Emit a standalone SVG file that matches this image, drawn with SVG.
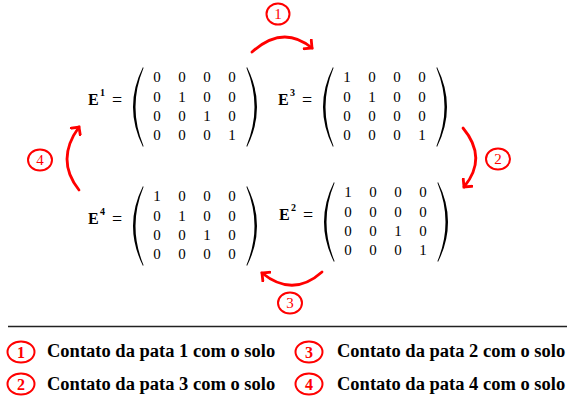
<svg xmlns="http://www.w3.org/2000/svg" width="567" height="403" viewBox="0 0 567 403">
<style>
text{font-family:"Liberation Serif","Times New Roman","DejaVu Serif",serif}
.e{font-size:16px;font-weight:bold;fill:#000}
.sup{font-size:10px;font-weight:bold;fill:#000}
.eq{font-size:18px;fill:#000}
.m{font-size:15px;fill:#000;text-anchor:middle}
.par{fill:#000}
.arr{fill:none;stroke:#f00;stroke-width:2.8;stroke-linecap:round}
.lab{fill:#fff;stroke:#f00;stroke-width:2}
.num{font-size:15px;fill:#f00;text-anchor:middle}
.lnum{font-size:16px;font-weight:bold;fill:#f00;text-anchor:middle}
.leg{font-size:18.5px;font-weight:bold;fill:#000}
</style>
<defs>
<marker id="ah" markerWidth="12" markerHeight="14" refX="7" refY="7" orient="auto" markerUnits="userSpaceOnUse">
<path d="M1.5,1.5 L7,7 L1.5,12.5" fill="none" stroke="#f00" stroke-width="2.8" stroke-linecap="square"/>
</marker>
<g id="parens">
<path class="par" d="M143,67 Q123,107 143,147 L143.5,146 Q127.5,107 143.5,68 Z"/>
<path class="par" d="M247,67 Q267,107 247,147 L246.5,146 Q262.5,107 246.5,68 Z"/>
</g>
</defs>

<g id="E1">
<text class="e" x="88" y="105">E</text><text class="sup" x="100" y="96">1</text><text class="eq" x="112" y="106">=</text>
<use href="#parens"/>
<text class="m" y="82"><tspan x="157">0</tspan><tspan x="182">0</tspan><tspan x="207">0</tspan><tspan x="232">0</tspan></text>
<text class="m" y="102"><tspan x="157">0</tspan><tspan x="182">1</tspan><tspan x="207">0</tspan><tspan x="232">0</tspan></text>
<text class="m" y="121"><tspan x="157">0</tspan><tspan x="182">0</tspan><tspan x="207">1</tspan><tspan x="232">0</tspan></text>
<text class="m" y="140"><tspan x="157">0</tspan><tspan x="182">0</tspan><tspan x="207">0</tspan><tspan x="232">1</tspan></text>
</g>

<g id="E3" transform="translate(190,0)">
<text class="e" x="88" y="105">E</text><text class="sup" x="100" y="96">3</text><text class="eq" x="112" y="106">=</text>
<use href="#parens"/>
<text class="m" y="82"><tspan x="157">1</tspan><tspan x="182">0</tspan><tspan x="207">0</tspan><tspan x="232">0</tspan></text>
<text class="m" y="102"><tspan x="157">0</tspan><tspan x="182">1</tspan><tspan x="207">0</tspan><tspan x="232">0</tspan></text>
<text class="m" y="121"><tspan x="157">0</tspan><tspan x="182">0</tspan><tspan x="207">0</tspan><tspan x="232">0</tspan></text>
<text class="m" y="140"><tspan x="157">0</tspan><tspan x="182">0</tspan><tspan x="207">0</tspan><tspan x="232">1</tspan></text>
</g>

<g id="E4" transform="translate(0,119)">
<text class="e" x="88" y="105">E</text><text class="sup" x="100" y="96">4</text><text class="eq" x="112" y="106">=</text>
<use href="#parens"/>
<text class="m" y="82"><tspan x="157">1</tspan><tspan x="182">0</tspan><tspan x="207">0</tspan><tspan x="232">0</tspan></text>
<text class="m" y="102"><tspan x="157">0</tspan><tspan x="182">1</tspan><tspan x="207">0</tspan><tspan x="232">0</tspan></text>
<text class="m" y="121"><tspan x="157">0</tspan><tspan x="182">0</tspan><tspan x="207">1</tspan><tspan x="232">0</tspan></text>
<text class="m" y="140"><tspan x="157">0</tspan><tspan x="182">0</tspan><tspan x="207">0</tspan><tspan x="232">0</tspan></text>
</g>

<g id="E2" transform="translate(191,115)">
<text class="e" x="88" y="105">E</text><text class="sup" x="100" y="96">2</text><text class="eq" x="112" y="106">=</text>
<use href="#parens"/>
<text class="m" y="82"><tspan x="157">1</tspan><tspan x="182">0</tspan><tspan x="207">0</tspan><tspan x="232">0</tspan></text>
<text class="m" y="102"><tspan x="157">0</tspan><tspan x="182">0</tspan><tspan x="207">0</tspan><tspan x="232">0</tspan></text>
<text class="m" y="121"><tspan x="157">0</tspan><tspan x="182">0</tspan><tspan x="207">1</tspan><tspan x="232">0</tspan></text>
<text class="m" y="140"><tspan x="157">0</tspan><tspan x="182">0</tspan><tspan x="207">0</tspan><tspan x="232">1</tspan></text>
</g>

<g id="connectors">
<path class="arr" d="M252,52 Q283,24 312,48" marker-end="url(#ah)"/>
<path class="arr" d="M463,128 Q488,158 464,187" marker-end="url(#ah)"/>
<path class="arr" d="M322,272 Q293,298 262,273" marker-end="url(#ah)"/>
<path class="arr" d="M79,190 Q55,160 79,127" marker-end="url(#ah)"/>
</g>

<g id="label1"><ellipse class="lab" cx="278" cy="14" rx="11.5" ry="10.5"/><text class="num" x="278" y="19">1</text></g>
<g id="label2"><ellipse class="lab" cx="498" cy="159" rx="12" ry="10.5"/><text class="num" x="498" y="164">2</text></g>
<g id="label3"><ellipse class="lab" cx="290" cy="303" rx="12" ry="10.5"/><text class="num" x="290" y="308">3</text></g>
<g id="label4"><ellipse class="lab" cx="40" cy="160" rx="12" ry="10.5"/><text class="num" x="40" y="165">4</text></g>

<line x1="8" y1="326.5" x2="567" y2="326.5" stroke="#222" stroke-width="1.3"/>

<g id="legend">
<ellipse class="lab" cx="21" cy="352" rx="13.5" ry="10.5"/><text class="lnum" x="21" y="358">1</text>
<text class="leg" x="47" y="357">Contato da pata 1 com o solo</text>
<ellipse class="lab" cx="21" cy="384" rx="13.5" ry="10.5"/><text class="lnum" x="21" y="390">2</text>
<text class="leg" x="47" y="390">Contato da pata 3 com o solo</text>
<ellipse class="lab" cx="309" cy="352" rx="13.5" ry="10.5"/><text class="lnum" x="309" y="358">3</text>
<text class="leg" x="337" y="357">Contato da pata 2 com o solo</text>
<ellipse class="lab" cx="309" cy="384" rx="13.5" ry="10.5"/><text class="lnum" x="309" y="390">4</text>
<text class="leg" x="337" y="390">Contato da pata 4 com o solo</text>
</g>
</svg>
